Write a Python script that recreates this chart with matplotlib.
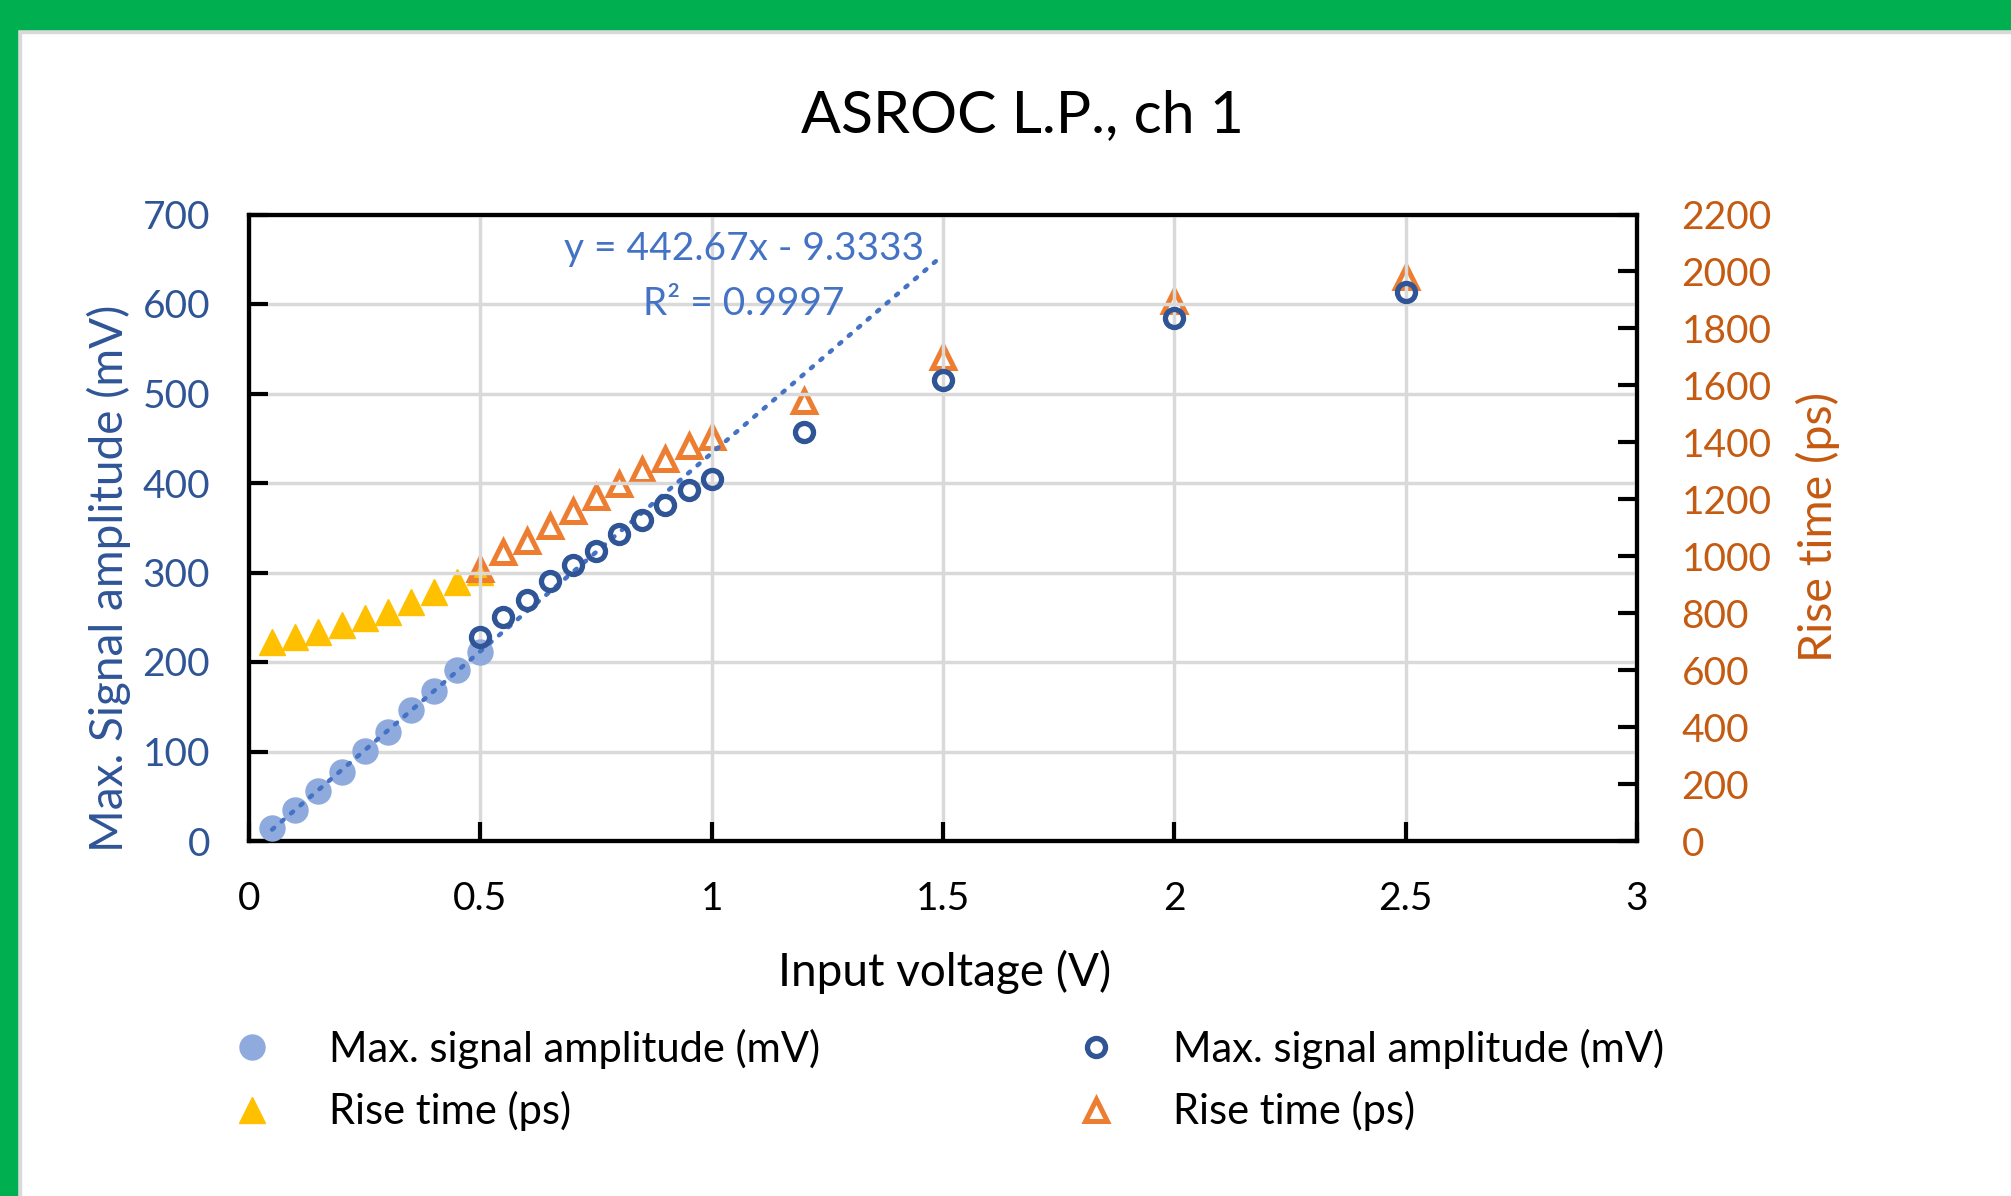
import numpy as np
import matplotlib
matplotlib.use("Agg")
import matplotlib.pyplot as plt
from matplotlib.patches import Rectangle

plt.rcParams['font.family'] = ['Lato', 'DejaVu Sans']

# ---------------- data ----------------
x_low = [0.05, 0.10, 0.15, 0.20, 0.25, 0.30, 0.35, 0.40, 0.45, 0.50]
amp_low = [14, 35, 56, 77, 101, 122, 146, 168, 191, 211]
rise_low = [700, 717, 735, 758, 782, 805, 840, 873, 908, 943]

x_high = [0.50, 0.55, 0.60, 0.65, 0.70, 0.75, 0.80, 0.85, 0.90, 0.95, 1.00, 1.2, 1.5, 2.0, 2.5]
amp_high = [228, 250, 269, 290, 308, 324, 343, 359, 375, 392, 405, 457, 515, 584, 613]
rise_high = [955, 1016, 1054, 1105, 1160, 1207, 1252, 1302, 1341, 1388, 1420, 1544, 1698, 1897, 1981]

fit_slope = 442.67
fit_intercept = -9.3333
fit_r2 = 0.9997
fit_range = [0.05, 1.5]

x_ticks = [0, 0.5, 1, 1.5, 2, 2.5, 3]
x_ticklabels = ["0", "0.5", "1", "1.5", "2", "2.5", "3"]
amp_ticks = [0, 100, 200, 300, 400, 500, 600, 700]
rise_ticks = [0, 200, 400, 600, 800, 1000, 1200, 1400, 1600, 1800, 2000, 2200]

# ---------------- style ----------------
C_LBLUE = "#8FAADC"
C_DBLUE = "#2F5597"
C_TREND = "#4472C4"
C_YELLOW = "#FFC000"
C_ORANGE = "#ED7D31"
C_LEFT = "#2F5597"
C_RIGHT = "#C55A11"
C_GRID = "#D9D9D9"

W, H = 2011, 1196
fig = plt.figure(figsize=(W / 100, H / 100), dpi=100)
fig.patch.set_facecolor("white")

# green frame (top and left) with thin grey inner edge
fig.add_artist(Rectangle((0, 1 - 33 / H), 1, 33 / H, transform=fig.transFigure, color="#D9D9D9", zorder=0))
fig.add_artist(Rectangle((0, 1 - 29 / H), 1, 29 / H, transform=fig.transFigure, color="#00B050", zorder=1))
fig.add_artist(Rectangle((0, 0), 21 / W, 1, transform=fig.transFigure, color="#D9D9D9", zorder=0))
fig.add_artist(Rectangle((0, 0), 17 / W, 1, transform=fig.transFigure, color="#00B050", zorder=1))

left, right = 249 / W, 1637 / W
bottom, top = 1 - 841 / H, 1 - 214.5 / H
ax = fig.add_axes([left, bottom, right - left, top - bottom])
ax2 = ax.twinx()

ax.set_xlim(0, 3)
ax.set_ylim(0, 700)
ax2.set_ylim(0, 2200)
ax.set_xticks(x_ticks)
ax.set_xticklabels(x_ticklabels)
ax.set_yticks(amp_ticks)
ax2.set_yticks(rise_ticks)

ax.grid(True, color=C_GRID, linewidth=2.5, zorder=0)
ax.set_axisbelow(True)

for a in (ax, ax2):
    for s in a.spines.values():
        s.set_linewidth(3)
        s.set_color("black")

ax.tick_params(axis="x", direction="in", length=14, width=3, pad=29, labelsize=28, labelcolor="black")
ax.tick_params(axis="y", direction="in", length=14, width=3, pad=28, labelsize=28, labelcolor=C_LEFT)
ax2.tick_params(axis="y", direction="in", length=14, width=3, pad=32, labelsize=28, labelcolor=C_RIGHT)

# trendline
xf = np.linspace(fit_range[0], fit_range[1], 50)
yf = np.polyval([fit_slope, fit_intercept], xf)
ax.plot(xf, yf, linestyle=(0, (0.6, 2.2)), color=C_TREND, linewidth=3.2,
        dash_capstyle="round", zorder=4)

# series
h1, = ax.plot(x_low, amp_low, linestyle="none", marker="o", markersize=18,
              markerfacecolor=C_LBLUE, markeredgecolor=C_LBLUE, zorder=3,
              label="Max. signal amplitude (mV)")
h3, = ax.plot(x_high, amp_high, linestyle="none", marker="o", markersize=13,
              markerfacecolor="none", markeredgecolor=C_DBLUE, markeredgewidth=3.8, zorder=5,
              label="Max. signal amplitude (mV)")
h2, = ax2.plot(x_low, rise_low, linestyle="none", marker="^", markersize=19,
               markerfacecolor=C_YELLOW, markeredgecolor=C_YELLOW, zorder=3,
               label="Rise time (ps)")
h4, = ax2.plot(x_high, rise_high, linestyle="none", marker="^", markersize=16,
               markerfacecolor="none", markeredgecolor=C_ORANGE, markeredgewidth=3.6, zorder=5,
               label="Rise time (ps)")

ax.set_zorder(ax2.get_zorder() + 1)
ax.patch.set_visible(False)

# labels
fig.text(109 / W, 1 - 578 / H, "Max. Signal amplitude (mV)", rotation=90,
         ha="center", va="center", fontsize=33, color=C_LEFT)
fig.text(1818 / W, 1 - 527 / H, "Rise time (ps)", rotation=90,
         ha="center", va="center", fontsize=33.5, color=C_RIGHT)
fig.text(945 / W, 1 - 972 / H, "Input voltage (V)", ha="center", va="center", fontsize=33, color="black")
fig.text(1022 / W, 1 - 116 / H, "ASROC L.P., ch 1", ha="center", va="center", fontsize=42.5, color="black")

# trendline equation
fig.text(744 / W, 1 - 249 / H, f"y = {fit_slope:.2f}x - {abs(fit_intercept):.4f}",
         ha="center", va="center", fontsize=28, color=C_TREND)
fig.text(744 / W, 1 - 304 / H, f"R\u00b2 = {fit_r2:.4f}",
         ha="center", va="center", fontsize=28, color=C_TREND)

# legend
leg = fig.legend(handles=[h1, h2, h3, h4], ncol=2, loc="upper left",
                 bbox_to_anchor=(215 / W, 1 - 1012 / H), frameon=False, fontsize=30,
                 handlelength=0.97, handletextpad=1.36, columnspacing=6.15, labelspacing=0.54,
                 borderaxespad=0)
for t in leg.get_texts():
    t.set_color("black")

fig.savefig("out.png", dpi=100)
